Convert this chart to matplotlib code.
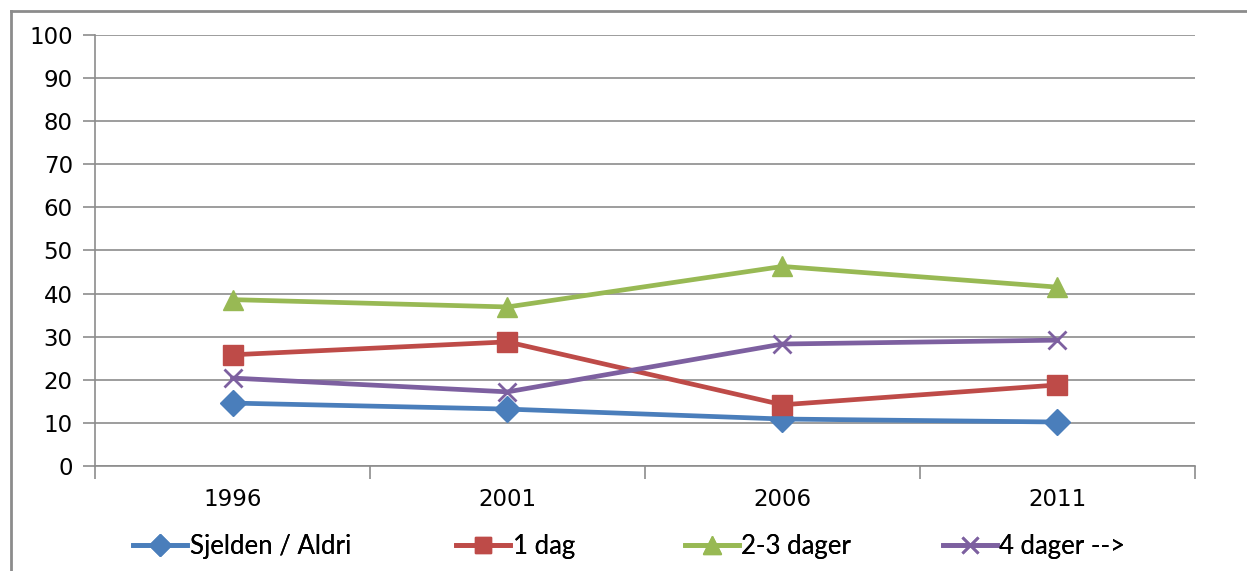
import matplotlib.pyplot as plt
from matplotlib.lines import Line2D

years = ["1996", "2001", "2006", "2011"]
sjelden = [14.6, 13.2, 10.9, 10.2]
en_dag = [25.8, 28.8, 14.2, 18.8]
to_tre_dager = [38.6, 36.9, 46.3, 41.5]
fire_dager = [20.4, 17.2, 28.3, 29.2]

series = [
    ("Sjelden / Aldri", sjelden, "#4A7EBB", "D", 13),
    ("1 dag", en_dag, "#BE4B48", "s", 14),
    ("2-3 dager", to_tre_dager, "#98B954", "^", 15),
    ("4 dager -->", fire_dager, "#7D60A0", "x", 13),
]
# left edge of each legend entry, in figure fraction
legend_x = [0.107, 0.366, 0.549, 0.756]

fig = plt.figure(figsize=(12.47, 5.71), dpi=100)
ax = fig.add_axes([0.0762, 0.1839, 0.8820, 0.7548])

x = list(range(len(years)))
lines = []
for label, vals, color, marker, ms in series:
    kw = dict(markeredgecolor=color, markerfacecolor=color)
    if marker == "x":
        kw["markeredgewidth"] = 2
    ln, = ax.plot(x, vals, color=color, linewidth=3.4, marker=marker,
                  markersize=ms, label=label, zorder=3, **kw)
    lines.append(ln)

grid_color = "#8C8C8C"
ax.set_ylim(0, 100)
ax.set_xlim(-0.5, len(years) - 0.5)
ax.set_yticks(range(0, 101, 10))
ax.yaxis.grid(True, color=grid_color, linewidth=1.2)
ax.set_axisbelow(True)

# category boundaries get the tick marks, labels sit in between
ax.set_xticks([i - 0.5 for i in range(len(years) + 1)])
ax.set_xticklabels([])
ax.set_xticks(x, minor=True)
ax.set_xticklabels(years, minor=True)
ax.tick_params(axis="x", which="minor", length=0, pad=16, labelsize=16.5)
ax.tick_params(axis="x", which="major", length=9, color=grid_color, width=1.2)
ax.tick_params(axis="y", length=9, color=grid_color, width=1.2, pad=7,
               labelsize=16.5)

for side in ("top", "right"):
    ax.spines[side].set_visible(False)
for side in ("left", "bottom"):
    ax.spines[side].set_color(grid_color)
    ax.spines[side].set_linewidth(1.2)

# outer chart frame (top and left edges)
fig.add_artist(Line2D([0.0088, 1.0], [0.981, 0.981], color="#8C8C8C",
                      linewidth=2, transform=fig.transFigure))
fig.add_artist(Line2D([0.0088, 0.0088], [0.0, 0.981], color="#8C8C8C",
                      linewidth=2, transform=fig.transFigure))

for ln, lx in zip(lines, legend_x):
    leg = fig.legend([ln], [ln.get_label()], loc="center left",
                     bbox_to_anchor=(lx, 0.043), frameon=False,
                     handlelength=2.1, handletextpad=0.1, borderpad=0,
                     borderaxespad=0, markerscale=0.85,
                     prop={"family": "Lato", "size": 18.5})
    fig.add_artist(leg)

fig.savefig("out.png", dpi=100)
